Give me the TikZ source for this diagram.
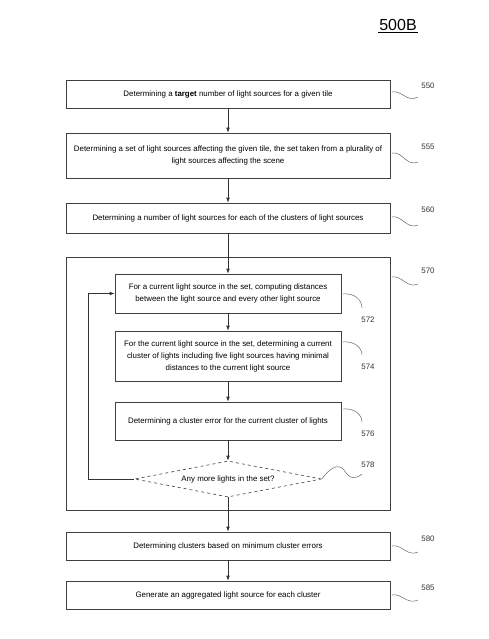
\documentclass[tikz,border=0pt]{standalone}
\usepackage{fontspec}
\setmainfont{Liberation Sans}
\usetikzlibrary{shapes.geometric,arrows.meta}

\begin{document}
\begin{tikzpicture}[x=1pt, y=-1pt, % one unit per pixel, y going down
    font=\fontsize{7.9}{12}\selectfont,
    line width=0.6pt,
    stepbox/.style={draw=black!75, rectangle, minimum width=324pt, align=center, inner sep=0pt},
    innerbox/.style={draw=black!75, rectangle, minimum width=226pt, align=center, inner sep=0pt},
    flow/.style={draw=black!80, -{Latex[length=5pt,width=3.6pt]}},
    squiggle/.style={draw=black!60, line width=0.5pt},
    refnum/.style={inner sep=0pt, text=black!80}]

    % Define parameters
    \def\cx{228}   % centre line of the flow
    \def\rx{428}   % x of the outer reference numbers
    \def\ix{368}   % x of the inner reference numbers

    % frame
    \useasboundingbox (0,0) rectangle (488,639);

    % title
    \node[inner sep=1pt] (title) at (398,25) {\fontsize{16}{18}\selectfont 500B};
    \draw[line width=0.8pt] (title.south west) -- (title.south east);

    % outer steps
    \node[stepbox, minimum height=28pt] (s550) at (\cx,94)
        {Determining a \textbf{target} number of light sources for a given tile};
    \node[stepbox, minimum height=45pt] (s555) at (\cx,155.5)
        {Determining a set of light sources affecting the given tile, the set taken from a plurality of\\
         light sources affecting the scene};
    \node[stepbox, minimum height=30pt] (s560) at (\cx,218)
        {Determining a number of light sources for each of the clusters of light sources};

    % loop box
    \node[stepbox, minimum height=253pt] (s570) at (\cx,383.5) {};

    % inner steps
    \node[innerbox, minimum height=39pt] (s572) at (\cx,293.5)
        {For a current light source in the set, computing distances\\
         between the light source and every other light source};
    \node[innerbox, minimum height=50pt] (s574) at (\cx,356)
        {For the current light source in the set, determining a current\\
         cluster of lights including five light sources having minimal\\
         distances to the current light source};
    \node[innerbox, minimum height=38pt] (s576) at (\cx,421)
        {Determining a cluster error for the current cluster of lights};
    \node[draw=black!75, dashed, diamond, aspect=5.2, minimum width=187pt, minimum height=36pt, inner sep=0pt]
        (s578) at (\cx,479) {Any more lights in the set?};

    % last steps
    \node[stepbox, minimum height=28pt] (s580) at (\cx,546)
        {Determining clusters based on minimum cluster errors};
    \node[stepbox, minimum height=28pt] (s585) at (\cx,595)
        {Generate an aggregated light source for each cluster};

    % arrows
    \draw[flow] (s550) -- (s555);
    \draw[flow] (s555) -- (s560);
    \draw[flow] (s560) -- (s572);
    \draw[flow] (s572) -- (s574);
    \draw[flow] (s574) -- (s576);
    \draw[flow] (s576) -- (s578);
    \draw[flow] (s578) -- (s580);
    \draw[flow] (s580) -- (s585);

    % loop back
    \coordinate (back) at (88,479);
    \draw[flow] (s578.west) -- (back) |- (s572.west);

    % reference numbers
    \node[refnum] (n550) at (\rx,86) {550};
    \node[refnum] (n555) at (\rx,147) {555};
    \node[refnum] (n560) at (\rx,210) {560};
    \node[refnum] (n570) at (\rx,271) {570};
    \node[refnum] (n572) at (\ix,320) {572};
    \node[refnum] (n574) at (\ix,367) {574};
    \node[refnum] (n576) at (\ix,434) {576};
    \node[refnum] (n578) at (\ix,465) {578};
    \node[refnum] (n580) at (\rx,539) {580};
    \node[refnum] (n585) at (\rx,588) {585};

    % squiggles
    \draw[squiggle] (392,92) .. controls (402,90) and (407,103) .. (418,97);
    \draw[squiggle] (392,153) .. controls (402,151) and (407,167) .. (418,162);
    \draw[squiggle] (392,217) .. controls (402,215) and (407,230) .. (418,225);
    \draw[squiggle] (392,277) .. controls (402,275) and (407,289) .. (418,284);
    \draw[squiggle] (392,546) .. controls (402,544) and (407,557) .. (418,552);
    \draw[squiggle] (392,595) .. controls (402,593) and (407,605) .. (418,600);
    \draw[squiggle] (343,294) .. controls (355,293) and (362,300) .. (362,308);
    \draw[squiggle] (343,342) .. controls (355,341) and (362,348) .. (362,355);
    \draw[squiggle] (343,409) .. controls (355,408) and (362,415) .. (362,422);
    \draw[squiggle] (s578.east) .. controls (328,470) and (338,462) .. (344,470)
        .. controls (350,480) and (356,479) .. (362,474);

\end{tikzpicture}
\end{document}
